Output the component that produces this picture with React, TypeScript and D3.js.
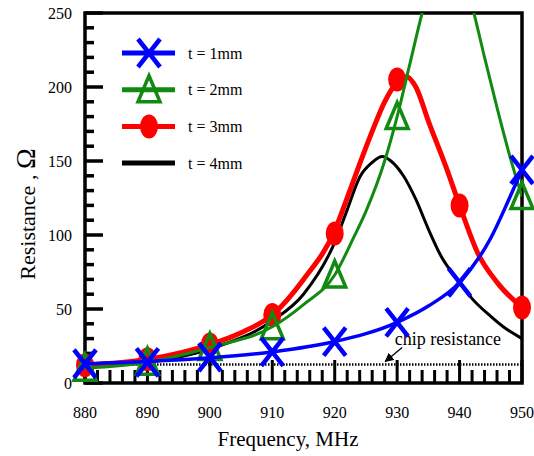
import React from "react"
import * as d3 from "d3"

type Pt = [number, number]

// tick labels
const xTicks = [880, 890, 900, 910, 920, 930, 940, 950]
const yTicks = [0, 50, 100, 150, 200, 250]

// measured points (markers) at every 10 MHz
const markerFreqs = [880, 890, 900, 910, 920, 930, 940, 950]
const t1Markers = [13, 14, 17.5, 21, 28, 41, 68, 144]
const t2Markers = [10, 14, 24, 38, 73, 180, null, 126]
const t3Markers = [12, 16, 26, 46, 101, 205, 120, 51]

// fitted curves
const t1Curve: Pt[] = [
  [880, 13], [890, 14.5], [900, 17], [910, 21], [920, 28], [930, 41],
  [935, 52], [940, 68], [945, 98], [948, 125], [950, 144],
]
const t2Curve: Pt[] = [
  [880, 10], [890, 14], [900, 24], [910, 38], [915, 53], [920, 73], [923, 98],
  [925, 116], [928, 150], [930, 180], [932, 215], [934, 250], [936, 280],
  [938, 295], [940, 285], [942, 255], [944, 220], [946, 186], [948, 154], [950, 126],
]
const t3Curve: Pt[] = [
  [880, 12], [890, 16], [900, 26], [905, 34], [910, 46], [915, 70], [920, 103],
  [922, 125], [924, 148], [926, 170], [928, 190], [930, 203], [931.5, 207],
  [933, 200], [935, 177], [938, 144], [940, 120], [943, 87], [946, 68], [950, 51],
]
const t4Curve: Pt[] = [
  [880, 11], [890, 14], [900, 23], [910, 42], [915, 60], [920, 95], [922, 117],
  [924, 139], [926, 149], [927.6, 153], [929, 150], [931, 140], [933, 124],
  [935, 104], [937, 86], [940, 68], [942, 57], [945, 45], [947, 38], [950, 30],
]

const chipResistance = 12.5

const legendItems = ["t = 1mm", "t = 2mm", "t = 3mm", "t = 4mm"]
const BLUE = "#0000ff"
const GREEN = "#118a11"
const RED = "#ff0000"
const BLACK = "#000000"

const width = 534
const height = 456
const font = "'Liberation Serif', 'Times New Roman', serif"

const x = d3.scaleLinear().domain([880, 950]).range([85, 522])
const y = d3.scaleLinear().domain([0, 250]).range([383, 13])

const line = d3
  .line<Pt>()
  .x((d) => x(d[0]))
  .y((d) => y(d[1]))
  .curve(d3.curveMonotoneX)

const crossPath = "M-11,-14L11,14M-11,14L11,-14"
const triPath = "M0,-14L11,12L-11,12Z"

export default function App() {
  const [x0, x1] = x.range()
  const [yb, yt] = y.range()
  const minorX = d3.range(880, 951, 2).filter((v) => v % 10 !== 0)
  const minorY = d3.range(0, 251, 10).filter((v) => v % 50 !== 0)

  return (
    <svg
      width={width}
      height={height}
      style={{ position: "absolute", left: 0, top: 0, background: "#fff" }}
      fontFamily={font}
    >
      <defs>
        <clipPath id="plot">
          <rect x={x0} y={yt} width={x1 - x0} height={yb - yt} />
        </clipPath>
        <marker id="arrow" viewBox="0 0 10 10" refX="9" refY="5" markerWidth="7" markerHeight="7" orient="auto">
          <path d="M0,0L10,5L0,10Z" fill="#000" />
        </marker>
      </defs>

      {/* ticks, inside */}
      {xTicks.map((t) => (
        <line key={"xt" + t} x1={x(t)} x2={x(t)} y1={yb} y2={yb - 23} stroke="#000" strokeWidth={3} />
      ))}
      {minorX.map((t) => (
        <line key={"xm" + t} x1={x(t)} x2={x(t)} y1={yb} y2={yb - 13} stroke="#000" strokeWidth={3} />
      ))}
      {yTicks.map((t) => (
        <line key={"yt" + t} x1={x0} x2={x0 + 18} y1={y(t)} y2={y(t)} stroke="#000" strokeWidth={3.5} />
      ))}
      {minorY.map((t) => (
        <line key={"ym" + t} x1={x0} x2={x0 + 9} y1={y(t)} y2={y(t)} stroke="#000" strokeWidth={3.5} />
      ))}

      {/* chip resistance */}
      <line
        x1={x0}
        x2={x1}
        y1={y(chipResistance)}
        y2={y(chipResistance)}
        stroke="#000"
        strokeWidth={2.5}
        strokeDasharray="1.5,1.5"
      />
      <text x={x(929.6)} y={y(25.5)} fontSize={18} fill="#000">
        chip resistance
      </text>
      <line
        x1={x(930.8)}
        y1={y(24)}
        x2={x(928.1)}
        y2={y(14.5)}
        stroke="#000"
        strokeWidth={1.3}
        markerEnd="url(#arrow)"
      />

      {/* frame */}
      <rect x={x0} y={yt} width={x1 - x0} height={yb - yt} fill="none" stroke="#000" strokeWidth={3.5} />

      {/* t = 4mm */}
      <path d={line(t4Curve) || ""} fill="none" stroke={BLACK} strokeWidth={3} clipPath="url(#plot)" />

      {/* t = 3mm */}
      <path d={line(t3Curve) || ""} fill="none" stroke={RED} strokeWidth={5} clipPath="url(#plot)" />
      {t3Markers.map((v, i) =>
        v == null ? null : (
          <ellipse key={"r" + i} cx={x(markerFreqs[i])} cy={y(v)} rx={9} ry={12} fill={RED} />
        )
      )}

      {/* t = 2mm */}
      <path d={line(t2Curve) || ""} fill="none" stroke={GREEN} strokeWidth={3} clipPath="url(#plot)" />
      {t2Markers.map((v, i) =>
        v == null ? null : (
          <path
            key={"g" + i}
            d={triPath}
            transform={`translate(${x(markerFreqs[i])},${y(v)})`}
            fill="none"
            stroke={GREEN}
            strokeWidth={3.5}
          />
        )
      )}

      {/* t = 1mm */}
      <path d={line(t1Curve) || ""} fill="none" stroke={BLUE} strokeWidth={3.5} clipPath="url(#plot)" />
      {t1Markers.map((v, i) => (
        <path
          key={"b" + i}
          d={crossPath}
          transform={`translate(${x(markerFreqs[i])},${y(v)})`}
          fill="none"
          stroke={BLUE}
          strokeWidth={4.5}
        />
      ))}

      {/* tick labels */}
      {xTicks.map((t) => (
        <text key={"xl" + t} x={x(t)} y={418} fontSize={16} textAnchor="middle" fill="#000">
          {t}
        </text>
      ))}
      {yTicks.map((t) => (
        <text key={"yl" + t} x={72} y={y(t)} dy="0.35em" fontSize={16} textAnchor="end" fill="#000">
          {t}
        </text>
      ))}

      {/* axis titles */}
      <text x={288} y={446} fontSize={21} textAnchor="middle" fill="#000">
        Frequency, MHz
      </text>
      <text transform="translate(35,214) rotate(-90)" textAnchor="middle" fill="#000">
        <tspan fontSize={22}>Resistance , </tspan>
        <tspan fontSize={28}>Ω</tspan>
      </text>

      {/* legend */}
      {legendItems.map((label, i) => {
        const ly = 53 + i * 36.7
        const color = [BLUE, GREEN, RED, BLACK][i]
        return (
          <g key={label}>
            <line x1={122} x2={175} y1={ly} y2={ly} stroke={color} strokeWidth={5} />
            {i === 0 && (
              <path d={crossPath} transform={`translate(149,${ly})`} stroke={BLUE} strokeWidth={4.5} fill="none" />
            )}
            {i === 1 && (
              <path d={triPath} transform={`translate(149,${ly})`} stroke={GREEN} strokeWidth={3.5} fill="none" />
            )}
            {i === 2 && <ellipse cx={149} cy={ly} rx={9} ry={12} fill={RED} />}
            <text x={188} y={ly} dy="0.35em" fontSize={16} fill="#000">
              {label}
            </text>
          </g>
        )
      })}
    </svg>
  )
}
